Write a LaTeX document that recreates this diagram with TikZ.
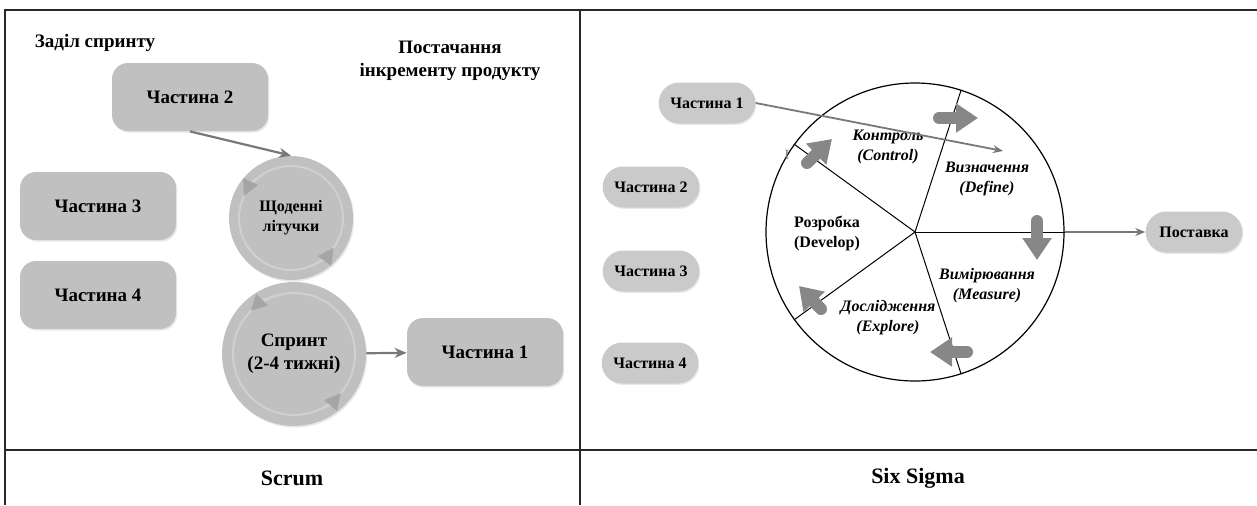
\documentclass[tikz,border=0pt]{standalone}
\usepackage{fontspec}
\setmainfont{Liberation Serif}
\usepackage{tikz}
\usetikzlibrary{arrows.meta, shadows, shapes.misc}

\definecolor{boxgrey}{RGB}{192,192,192}
\definecolor{pillgrey}{RGB}{202,202,202}
\definecolor{ringgrey}{RGB}{208,208,208}
\definecolor{trigrey}{RGB}{165,165,165}
\definecolor{linegrey}{RGB}{120,120,120}
\definecolor{blockgrey}{RGB}{135,135,135}
\definecolor{framegrey}{RGB}{40,40,40}

\begin{document}
\begin{tikzpicture}[x=0.5pt,y=0.5pt,yscale=-1,xscale=1,
    frame/.style={draw=framegrey, line width=0.8pt},
    sbox/.style={rectangle, rounded corners=8pt, fill=boxgrey, minimum width=78pt, minimum height=34pt,
        font=\fontsize{9.5}{11}\selectfont\bfseries,
        drop shadow={shadow xshift=0.6pt, shadow yshift=-0.8pt, opacity=0.18}},
    scirc/.style={circle, fill=boxgrey, align=center, inner sep=0pt,
        drop shadow={shadow xshift=0.6pt, shadow yshift=-0.8pt, opacity=0.18}},
    stitle/.style={font=\fontsize{9.5}{11.5}\selectfont\bfseries, align=center},
    sarrow/.style={draw=linegrey, line width=1.1pt, -{Stealth[length=6pt,width=5pt]}},
    ring/.style={draw=ringgrey, line width=1pt},
    ringtip/.style={draw=ringgrey, line width=1pt, -{Triangle[length=8pt,width=8pt,color=trigrey]}},
    pill/.style={rounded rectangle, fill=pillgrey, minimum width=55pt, minimum height=20.5pt,
        font=\fontsize{8}{9}\selectfont\bfseries,
        drop shadow={shadow xshift=0.5pt, shadow yshift=-0.7pt, opacity=0.18}},
    spoke/.style={draw=black, line width=0.5pt},
    garrow/.style={draw=linegrey, line width=0.9pt, -{Stealth[length=5pt,width=4pt]}},
    blockarrow/.style={draw=blockgrey, line width=6pt, line cap=round, -{Triangle[length=11pt,width=14pt]}},
    phase/.style={font=\fontsize{8}{10}\selectfont\bfseries\itshape, align=center},
    caption/.style={font=\fontsize{11}{13}\selectfont\bfseries}]

    \useasboundingbox (0,0) rectangle (1257,505);

    %Table frame
    \draw[frame] (5,505) -- (5,10) -- (1257,10);
    \draw[frame] (580,10) -- (580,505);
    \draw[frame] (5,450) -- (1257,450);

    % ---- Scrum ----
    % Text Node
    \node[stitle] (backlog) at (95,43) {Заділ спринту};
    % Text Node
    \node[stitle] (increment) at (450,61) {Постачання\\інкременту продукту};

    %Shape: Rounded boxes
    \node[sbox] (l2) at (190,97) {Частина 2};
    \node[sbox] (l3) at (98,206) {Частина 3};
    \node[sbox] (l4) at (98,295) {Частина 4};
    \node[sbox] (l1) at (485,352) {Частина 1};

    %Shape: Circles
    \node[scirc, minimum size=62pt, font=\fontsize{8}{10}\selectfont\bfseries] (daily) at (291,218) {Щоденні\\літучки};
    \node[scirc, minimum size=72pt, font=\fontsize{9.5}{11.5}\selectfont\bfseries] (sprint) at (294,354) {Спринт\\(2-4 тижні)};

    %Circle arrows
    \draw[ring] (daily.center) circle (52);
    \draw[ringtip] ([shift={(-120:52)}]daily.center) arc (-120:-155:52);
    \draw[ringtip] ([shift={(70:52)}]daily.center) arc (70:35:52);
    \draw[ring] (sprint.center) circle (61);
    \draw[ringtip] ([shift={(-100:61)}]sprint.center) arc (-100:-135:61);
    \draw[ringtip] ([shift={(75:61)}]sprint.center) arc (75:40:61);

    %Straight Lines
    \draw[sarrow] (l2.south) -- (daily.north);
    \draw[sarrow] (sprint) -- (l1);

    % ---- Six Sigma ----
    %Shape: Pills
    \node[pill] (r1) at (707,103) {Частина 1};
    \node[pill] (r2) at (651,187) {Частина 2};
    \node[pill] (r3) at (651,271) {Частина 3};
    \node[pill] (r4) at (650,363) {Частина 4};
    \node[pill] (deliver) at (1194,232) {Поставка};

    %Shape: Circle
    \node[circle, draw, line width=0.6pt, minimum size=149pt, inner sep=0pt] (cycle) at (915,232) {};
    \draw[spoke] (cycle.center) -- (cycle.72);
    \draw[spoke] (cycle.center) -- (cycle.0);
    \draw[spoke] (cycle.center) -- (cycle.-72);
    \draw[spoke] (cycle.center) -- (cycle.-144);
    \draw[spoke] (cycle.center) -- (cycle.144);

    %Block arrows
    \draw[blockarrow] (939,118) -- (978,118);
    \draw[blockarrow] (1037,221) -- (1037,260);
    \draw[blockarrow] (967,352) -- (930,352);
    \draw[blockarrow] (821,309) -- (799,286);
    \draw[blockarrow] (807,163) -- (832,139);

    % Text Node
    \node[phase] (control) at (888,147) {Контроль\\(Control)};
    \node[phase] (define) at (987,179) {Визначення\\(Define)};
    \node[phase] (measure) at (987,286) {Вимірювання\\(Measure)};
    \node[phase] (explore) at (888,318) {Дослідження\\(Explore)};
    \node[font=\fontsize{8}{10}\selectfont\bfseries, align=center] (develop) at (827,233) {Розробка\\(Develop)};
    \node[font=\fontsize{7}{7}\selectfont, text=linegrey, inner sep=0pt] (cursor) at (787,155) {I};

    %Straight Lines
    \coordinate (defend) at (1003,151);
    \draw[garrow] (r1.east) -- (defend);
    \draw[garrow] (cycle.east) -- (deliver.west);

    % Text Node
    \node[caption] (scrum) at (292,478) {Scrum};
    \node[caption] (sixsigma) at (918,478) {Six Sigma};

\end{tikzpicture}
\end{document}
